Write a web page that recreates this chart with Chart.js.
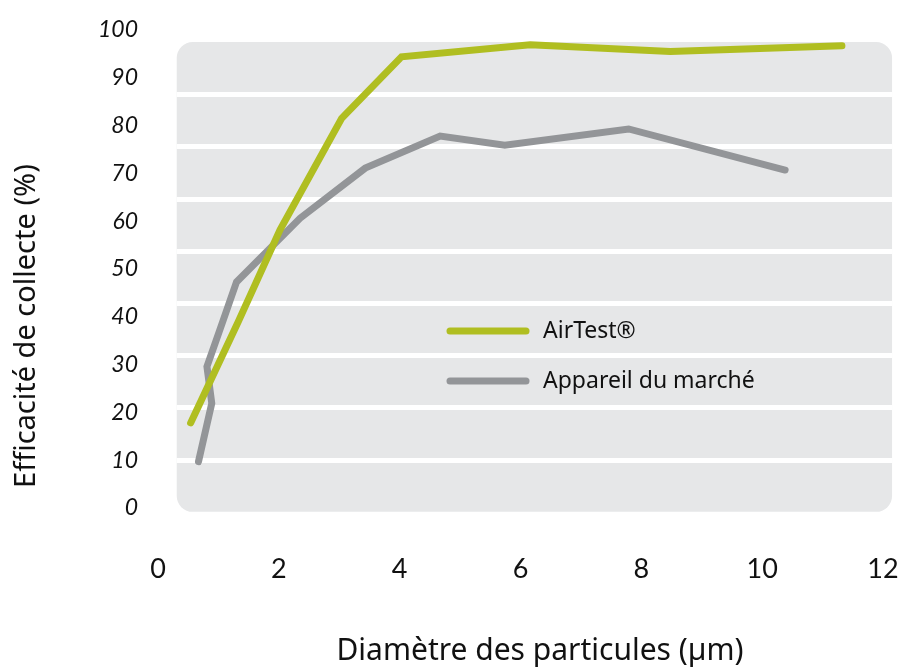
<!DOCTYPE html>
<html>
<head>
<meta charset="utf-8">
<script src="https://cdn.jsdelivr.net/npm/chart.js@4.4.0/dist/chart.umd.min.js"></script>
<style>
  html, body { margin: 0; padding: 0; background: #fff; }
  #wrap { width: 904px; height: 670px; }
</style>
</head>
<body>
<div id="wrap"><canvas id="c" width="904" height="670"></canvas></div>
<script>
// values
const airtestX = [0.54, 1.33, 2.02, 3.04, 4.03, 6.16, 8.48, 11.32];
const airtestY = [17.8, 39.0, 58.2, 81.5, 94.4, 96.9, 95.5, 96.7];
const marcheX = [0.67, 0.89, 0.81, 1.08, 1.30, 2.35, 3.43, 4.67, 5.74, 7.79, 10.38];
const marcheY = [9.7, 21.9, 29.6, 39.3, 47.3, 60.6, 71.1, 77.8, 75.9, 79.3, 70.7];
const seriesNames = ['AirTest®', 'Appareil du marché'];
const xTicks = [0, 2, 4, 6, 8, 10, 12];
const yTicks = [0, 10, 20, 30, 40, 50, 60, 70, 80, 90, 100];
const xTitle = 'Diamètre des particules (µm)';
const yTitle = 'Efficacité de collecte (%)';

const GREEN = '#b0be21';
const GREY = '#939598';
const FONT = 'Lato, "Noto Sans", sans-serif';
const TFONT = '"Noto Sans", sans-serif';

function pts(xs, ys) {
  return xs.map((x, i) => ({x: x, y: ys[i]}));
}

// rounded grey panel with white bands, drawn behind the lines
const panelPlugin = {
  id: 'panel',
  beforeDatasetsDraw(chart) {
    const {ctx, scales} = chart;
    const l = scales.x.getPixelForValue(0.31);
    const r = scales.x.getPixelForValue(12.15);
    const t = scales.y.getPixelForValue(97.5);
    const b = scales.y.getPixelForValue(-0.8);
    ctx.save();
    ctx.fillStyle = '#e6e7e8';
    ctx.beginPath();
    ctx.roundRect(l, t, r - l, b - t, 16);
    ctx.fill();
    ctx.strokeStyle = '#ffffff';
    ctx.lineWidth = 5;
    const band = (b - t) / 9;
    for (let i = 1; i < 9; i++) {
      const y = Math.round(t + band * i) + 0.5;
      ctx.beginPath();
      ctx.moveTo(l, y);
      ctx.lineTo(r, y);
      ctx.stroke();
    }
    ctx.restore();
  }
};

// legend inside the panel + axis titles
const extras = {
  id: 'extras',
  afterDatasetsDraw(chart) {
    const {ctx, chartArea} = chart;
    const x0 = chartArea.left + 292;
    const y0 = chartArea.top + 301;
    ctx.save();
    chart.data.datasets.forEach((ds, i) => {
      const y = y0 + i * 50;
      ctx.strokeStyle = ds.borderColor;
      ctx.lineWidth = 7;
      ctx.lineCap = 'round';
      ctx.beginPath();
      ctx.moveTo(x0, y);
      ctx.lineTo(x0 + 76, y);
      ctx.stroke();
      ctx.fillStyle = '#111';
      ctx.font = '23px ' + TFONT;
      ctx.textBaseline = 'middle';
      ctx.fillText(ds.label, x0 + 93, y);
    });

    ctx.fillStyle = '#111';
    ctx.textAlign = 'center';
    ctx.textBaseline = 'middle';
    ctx.font = '30px ' + TFONT;
    ctx.fillText(xTitle, chartArea.left + 382, 651);

    ctx.font = '29px ' + TFONT;
    ctx.translate(27, chartArea.top + 296);
    ctx.rotate(-Math.PI / 2);
    ctx.fillText(yTitle, 0, 0);
    ctx.restore();
  }
};

new Chart(document.getElementById('c'), {
  type: 'scatter',
  data: {
    datasets: [
      {label: seriesNames[0], data: pts(airtestX, airtestY), showLine: true,
       borderColor: GREEN, borderWidth: 7, pointRadius: 0, tension: 0,
       borderCapStyle: 'round', borderJoinStyle: 'miter', clip: false},
      {label: seriesNames[1], data: pts(marcheX, marcheY), showLine: true,
       borderColor: GREY, borderWidth: 7, pointRadius: 0, tension: 0,
       borderCapStyle: 'round', borderJoinStyle: 'miter', clip: false}
    ]
  },
  options: {
    responsive: false,
    animation: false,
    layout: {padding: {left: 0, top: 30, right: 21, bottom: 0}},
    plugins: {legend: {display: false}, tooltip: {enabled: false}},
    scales: {
      x: {
        type: 'linear', min: 0, max: 12,
        afterFit(scale) {
          scale.height = 162;
          scale.paddingLeft = 0; scale.paddingRight = 0;
        },
        afterBuildTicks(scale) { scale.ticks = xTicks.map(v => ({value: v})); },
        grid: {display: false, drawTicks: false},
        border: {display: false},
        ticks: {color: '#111', padding: 45, font: {family: FONT, size: 27}}
      },
      y: {
        type: 'linear', min: 0, max: 100,
        afterFit(scale) {
          scale.width = 158;
          scale.paddingTop = 0; scale.paddingBottom = 0;
        },
        afterBuildTicks(scale) { scale.ticks = yTicks.map(v => ({value: v})); },
        grid: {display: false, drawTicks: false},
        border: {display: false},
        ticks: {color: '#111', padding: 20, font: {family: FONT, size: 23, style: 'italic'}}
      }
    }
  },
  plugins: [panelPlugin, extras]
});
</script>
</body>
</html>
